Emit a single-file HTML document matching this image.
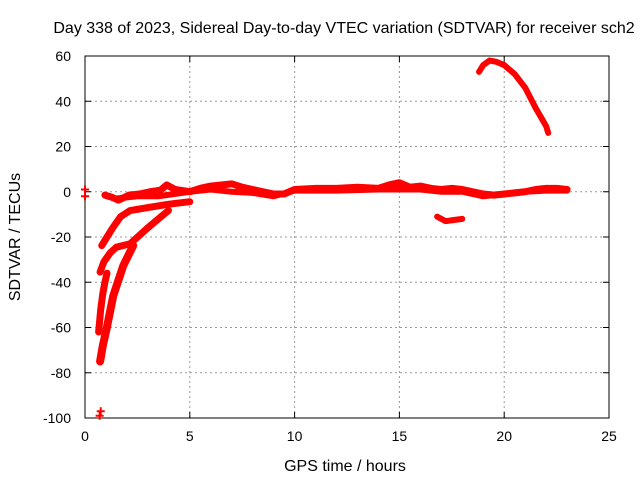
<!DOCTYPE html>
<html><head><meta charset="utf-8"><style>
body{margin:0;background:#fff;width:640px;height:480px;overflow:hidden}
text{font-family:"Liberation Sans",sans-serif;font-size:14px;fill:#000}
</style></head><body>
<svg id="chart" width="640" height="480">
<text x="344" y="33" text-anchor="middle" style="font-size:16px">Day 338 of 2023, Sidereal Day-to-day VTEC variation (SDTVAR) for receiver sch2</text>
<g id="grid"></g><g id="axes"></g><g id="marks"></g>
<text x="345" y="471" text-anchor="middle" style="font-size:16px">GPS time / hours</text>
<text transform="translate(20,237) rotate(-90)" text-anchor="middle" style="font-size:16px">SDTVAR / TECUs</text>
</svg>
<script>
const xTicks=[0,5,10,15,20,25];
const yTicks=[60,40,20,0,-20,-40,-60,-80,-100];
const mainX=[0.95,1.3,1.6,2.1,2.6,3.1,3.6,3.9,4.3,5,5.5,6,6.5,7,7.5,8,8.5,9,9.5,10,11,12,13,14,14.5,15,15.5,16,16.5,17,17.5,18,18.5,19,19.5,20,20.5,21,21.5,22,22.5,23];
const mainY=[-1.5,-2.5,-3.7,-1.5,-1,0,0.7,3,1,0,1.5,2.5,3,3.5,2,1,0,-1,-1,1,1.5,1.5,2,1.5,3,4,2,2.5,1.5,1,1.5,1,0,-1,-1.5,-1,-0.5,0,1,1.5,1.5,1];
const lowX=[1.5,2.5,3.5,5,6,7,8,9,10,12,14,16,17,18,19,20,21,22,23];
const lowY=[-3,-2,-2,0,1,0,-0.5,-2,0.5,0.5,1,1,0,0,-2,-1,0,0.5,0.5];
const arcX=[18.8,19,19.3,19.6,20,20.5,21,21.5,22,22.1];
const arcY=[53,56,58,57.5,56,52,46,37,29,26];
const segX=[16.8,17.2,17.6,18];
const segY=[-11,-13,-12.5,-12];
const aX=[0.8,1.05,1.35,1.7,2.15,3,4,5];
const aY=[-23.8,-20,-15.6,-11,-8.3,-7,-5.5,-4.4];
const bX=[0.72,0.9,1.2,1.5,2.15,2.94,3.5,3.98];
const bY=[-35.5,-31,-27,-24.5,-23,-16.4,-12,-8.3];
const cX=[0.72,0.85,1.03,1.35,1.83,2.3];
const cY=[-75,-68,-60.6,-45.9,-32.6,-23.8];
const dX=[0.65,0.75,0.85,0.95,1.05];
const dY=[-62,-52,-45,-40,-36];
const ptX=[0,0,0.7,0.75];
const ptY=[1,-2,-99,-97];
const X0=85,X1=609,Y0=56,Y1=418;
const sx=v=>X0+(v-0)*(X1-X0)/25;
const sy=v=>Y0+(60-v)*(Y1-Y0)/160;
const NS="http://www.w3.org/2000/svg";
function mk(t,a,p){const e=document.createElementNS(NS,t);for(const k in a)e.setAttribute(k,a[k]);p.appendChild(e);return e;}
const grid=document.getElementById('grid'),axes=document.getElementById('axes'),marks=document.getElementById('marks');
mk('rect',{x:X0,y:Y0,width:X1-X0,height:Y1-Y0,fill:'none',stroke:'#000','stroke-width':1},axes);
xTicks.forEach(t=>{const x=sx(t);
 if(t>0&&t<25){const g=mk('line',{x1:x,x2:x,y1:Y0,y2:Y1,stroke:'#999','stroke-dasharray':'2,3'},grid);}
 mk('line',{x1:x,x2:x,y1:Y1,y2:Y1-6,stroke:'#000'},axes);mk('line',{x1:x,x2:x,y1:Y0,y2:Y0+6,stroke:'#000'},axes);
 const l=mk('text',{x:x,y:Y1+23,'text-anchor':'middle'},axes);l.textContent=t;
 
 });
yTicks.forEach(t=>{const y=sy(t);
 if(t<60&&t>-100){const g=mk('line',{x1:X0,x2:X1,y1:y,y2:y,stroke:'#999','stroke-dasharray':'2,3'},grid);}
 mk('line',{x1:X0,x2:X0+6,y1:y,y2:y,stroke:'#000'},axes);mk('line',{x1:X1,x2:X1-6,y1:y,y2:y,stroke:'#000'},axes);
 const l=mk('text',{x:X0-14,y:y+5,'text-anchor':'end'},axes);l.textContent=t;
 
 });
function track(xs,ys,name,w){
 const pl=mk('polyline',{points:xs.map((v,i)=>sx(v)+','+sy(ys[i])).join(' '),fill:'none',stroke:'#f00','stroke-width':w,'stroke-linejoin':'round','stroke-linecap':'round'},marks);
 
 }
track(mainX,mainY,'series-main',7);
track(lowX,lowY,'series-main-lower',6);
track(arcX,arcY,'series-arc',6);
track(segX,segY,'series-segment',6);
track(aX,aY,'series-rise-a',7);
track(bX,bY,'series-rise-b',7);
track(cX,cY,'series-rise-c',8);
track(dX,dY,'series-rise-d',7);
ptX.forEach((v,i)=>{const x=sx(v),y=sy(ptY[i]);
 const p=mk('path',{d:`M${x-4},${y}H${x+4}M${x},${y-4}V${y+4}`,stroke:'#f00','stroke-width':2},marks);
 
 });
</script>
</body></html>
